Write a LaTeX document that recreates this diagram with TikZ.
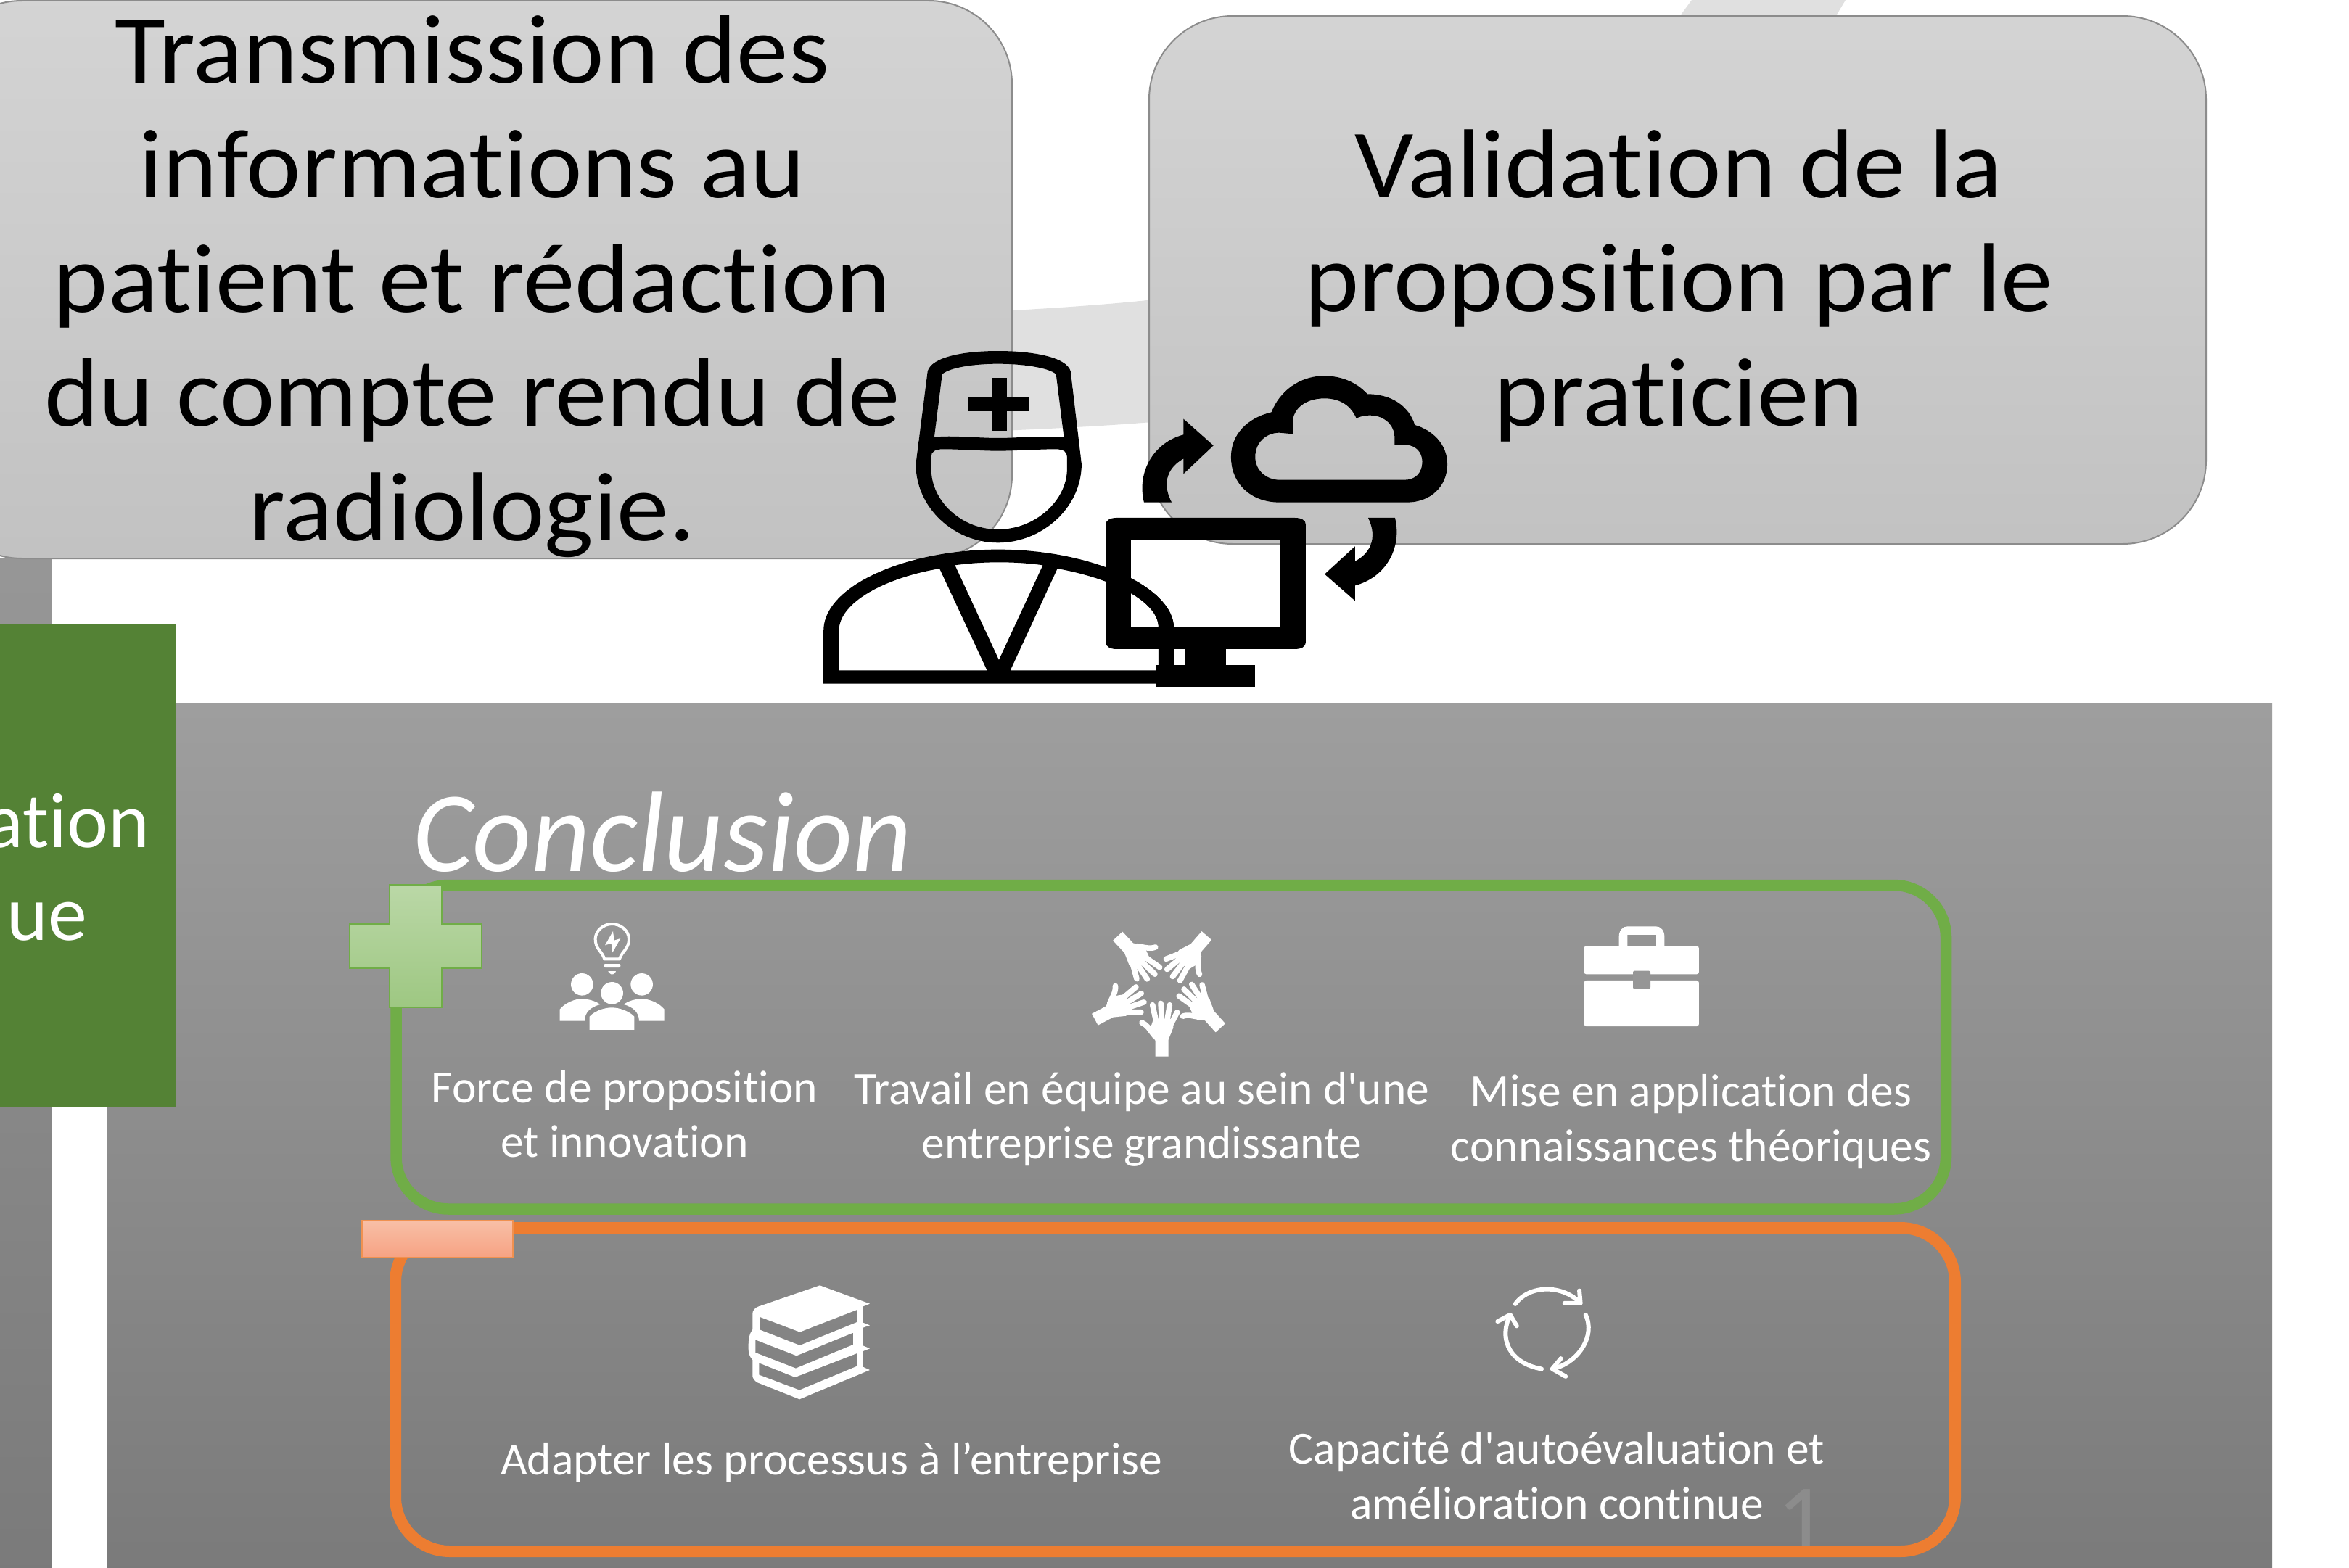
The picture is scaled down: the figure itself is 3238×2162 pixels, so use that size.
\documentclass[tikz,border=0pt]{standalone}
\usepackage{fontspec}
\newfontfamily\crl[Ligatures=CommonOff]{Carlito}
\newfontfamily\crlw[Ligatures=CommonOff,FakeStretch=1.06]{Carlito}
\definecolor{gr}{HTML}{70AD47}
\definecolor{og}{HTML}{ED7D31}
\definecolor{dg}{HTML}{548235}
\tikzset{
 big/.style={font=\crlw\fontsize{135}{150}\selectfont,text=black,anchor=base,inner sep=0},
 sm/.style={font=\crl\fontsize{63.5}{70}\selectfont,text=white,anchor=base,inner sep=0},
 box/.style={draw=black!45,line width=2pt,top color=black!17,bottom color=black!24,rounded corners=115pt},
 ic/.style={fill=black,even odd rule,draw=none},
 wi/.style={fill=white,even odd rule,draw=none},
 ws/.style={draw=white,fill=none,line cap=round,line join=round},
}
\begin{document}
\begin{tikzpicture}[x=1pt,y=-1pt]
\useasboundingbox (0,0) rectangle (3238,2162);
\clip (0,0) rectangle (3238,2162);
\fill[white] (0,0) rectangle (3238,2162);
% ring band behind the boxes
\fill[black!12] (1380,429) .. controls (1450,425) and (1530,420) .. (1600,412) -- (2310,30) -- (2332,0) -- (2544,0) -- (2520,40) -- (1600,581) .. controls (1530,587) and (1450,591) .. (1380,594) -- cycle;
% grey panels
\shade[top color=black!41,bottom color=black!52] (0,770) rectangle (71,2162);
\shade[top color=black!38,bottom color=black!52] (147,970) rectangle (3132,2162);
\fill[dg] (0,860) rectangle (243,1527);
\path[box] (-85,1) rectangle (1395,770);
\path[box] (1584,22) rectangle (3041,750);
% faint number
\node[sm,text=black!45,font=\crl\fontsize{135}{150}\selectfont] (num) at (2484,2140) {1};
% outlined groups
\draw[gr,line width=15.5pt,rounded corners=72pt] (546,1220.5) rectangle (2682.5,1667);
\draw[og,line width=16pt,rounded corners=75pt] (545,1693) rectangle (2695,2139);
% plus and minus
\draw[gr,line width=1.6pt,top color=gr!48!white,bottom color=gr!68!white]
 (537,1220) -- (609,1220) -- (609,1274) -- (664,1274) -- (664,1335) -- (609,1335) -- (609,1389) -- (537,1389) -- (537,1335) -- (482,1335) -- (482,1274) -- (537,1274) -- cycle;
\definecolor{mt}{HTML}{F8BFA6}\definecolor{mb}{HTML}{F6A283}
\draw[og!85!white,line width=1.6pt,top color=mt,bottom color=mb] (499,1683) rectangle (707,1734);
% top texts
\node[big] (l1) at (651,115) {Transmission des};
\node[big] (l2) at (651,272.5) {informations au};
\node[big] (l3) at (651,430) {patient et rédaction};
\node[big] (l4) at (651,587.5) {du compte rendu de};
\node[big] (l5) at (651,745) {radiologie.};
\node[big] (r1) at (2314,272) {Validation de la};
\node[big] (r2) at (2314,429) {proposition par le};
\node[big] (r3) at (2314,587) {praticien};
% green block text
\node[sm,font=\crl\fontsize{108}{120}\selectfont,anchor=base east] (g1) at (206,1168) {ation};
\node[sm,font=\crl\fontsize{108}{120}\selectfont,anchor=base east] (g2) at (120,1296) {ue};
% conclusion
\node[sm,font=\crl\itshape\fontsize{158}{170}\selectfont,anchor=base west] (concl) at (569,1201) {Conclusion};
% small labels
\node[sm] (a1) at (861,1520) {Force de proposition};
\node[sm] (a2) at (861,1595) {et innovation};
\node[sm] (b1) at (1574,1522) {Travail en équipe au sein d'une};
\node[sm] (b2) at (1574,1597) {entreprise grandissante};
\node[sm] (c1) at (2331,1525) {Mise en application des};
\node[sm] (c2) at (2331,1601) {connaissances théoriques};
\node[sm] (d1) at (1146,2033) {Adapter les processus à l’entreprise};
\node[sm] (e1) at (2146,2018) {Capacité d'autoévaluation et};
\node[sm] (e2) at (2146,2094) {amélioration continue};
% doctor + computer + cloud
\begin{scope}[xshift=1100pt,yshift=-460pt,x=0.606pt,y=-0.3333pt]
\path[ic] (295,155) .. controls (305,95) and (380,72) .. (455,72) .. controls (530,72) and (610,95) .. (620,155) -- (645,540) .. controls (645,720) and (555,865) .. (455,865) .. controls (355,865) and (268,720) .. (268,540) -- cycle
 (328,168) .. controls (345,140) and (400,125) .. (455,125) .. controls (510,125) and (570,140) .. (587,168) -- (605,430) .. controls (560,420) and (500,432) .. (455,432) .. controls (410,432) and (350,420) .. (310,428) -- cycle
 (303,510) .. controls (303,490) and (310,478) .. (330,478) .. controls (370,478) and (420,485) .. (455,485) .. controls (490,485) and (550,478) .. (585,478) .. controls (605,478) and (612,490) .. (612,510) -- (612,560) .. controls (612,690) and (540,810) .. (455,810) .. controls (370,810) and (303,690) .. (303,560) -- cycle;
\fill[black] (440,182) rectangle (475,403);
\fill[black] (388,265) rectangle (527,320);
\path[ic] (58,1448) -- (58,1230) .. controls (58,1040) and (250,893) .. (455,893) .. controls (670,893) and (855,1050) .. (855,1218) -- (855,1448) -- cycle
 (93,1393) -- (93,1230) .. controls (93,1110) and (200,1010) .. (322,972) -- (430,1393) -- cycle
 (357,958) .. controls (420,942) and (495,942) .. (557,958) -- (457,1350) -- cycle
 (590,972) .. controls (720,1015) and (820,1110) .. (820,1215) -- (820,1393) -- (483,1393) -- cycle;
\path[ic] (700,790) .. controls (700,772) and (710,762) .. (725,762) -- (1130,762) .. controls (1145,762) and (1155,772) .. (1155,790) -- (1155,1277) .. controls (1155,1295) and (1145,1305) .. (1130,1305) -- (725,1305) .. controls (710,1305) and (700,1295) .. (700,1277) -- cycle
 (757,855) rectangle (1097,1213);
\fill[black] (880,1305) rectangle (973,1370);
\fill[black] (815,1370) rectangle (1040,1462);
\begin{scope}
\clip (757,855) rectangle (1097,1213);
\path[ic] (455,893) .. controls (670,893) and (855,1050) .. (855,1218) -- (820,1215) .. controls (820,1110) and (720,1015) .. (590,972) -- cycle;
\end{scope}
\path[ic] (1095,698) -- (1385,698) .. controls (1440,698) and (1477,630) .. (1477,540) .. controls (1477,460) and (1445,400) .. (1403,378) .. controls (1390,300) and (1350,250) .. (1295,250) .. controls (1270,200) and (1235,175) .. (1197,175) .. controls (1140,175) and (1095,240) .. (1077,325) .. controls (1020,350) and (985,420) .. (985,510) .. controls (985,620) and (1030,698) .. (1095,698) -- cycle
 (1040,510) .. controls (1040,450) and (1065,410) .. (1095,410) -- (1125,415) -- (1125,370) .. controls (1125,310) and (1155,268) .. (1197,268) .. controls (1235,268) and (1258,300) .. (1270,350) .. controls (1280,342) and (1290,338) .. (1300,338) .. controls (1335,338) and (1357,380) .. (1357,430) -- (1357,460) -- (1380,460) .. controls (1405,460) and (1420,490) .. (1420,530) .. controls (1420,575) and (1405,605) .. (1380,605) -- (1095,605) .. controls (1065,605) and (1040,565) .. (1040,510) -- cycle;
\path[ic] (787,698) .. controls (770,570) and (810,450) .. (877,418) -- (877,353) -- (945,463) -- (877,580) -- (877,517) .. controls (835,560) and (830,630) .. (850,698) -- cycle;
\path[ic] (1358,762) .. controls (1375,890) and (1335,1010) .. (1267,1042) -- (1267,1105) -- (1198,995) -- (1267,880) -- (1267,942) .. controls (1310,900) and (1315,830) .. (1297,762) -- cycle;
\end{scope}
% bulb and people
\begin{scope}[xshift=750pt,yshift=-1260pt,x=.3333pt,y=-.3333pt]
\draw[ws,line width=4pt] (250,187) .. controls (240,155) and (212,145) .. (212,105) .. controls (212,70) and (245,42) .. (281,42) .. controls (317,42) and (351,70) .. (351,105) .. controls (351,145) and (322,155) .. (312,187) -- cycle;
\fill[white] (285,72) -- (252,130) -- (278,122) -- (283,160) -- (316,102) -- (290,110) -- cycle;
\fill[white,rounded corners=2pt] (247,207) rectangle (316,222);
\fill[white,rounded corners=2pt] (262,237) -- (300,237) -- (281,254) -- cycle;
\fill[white] (157,292) circle[radius=15.3pt];
\fill[white] (404,292) circle[radius=15.3pt];
\fill[white] (281,328) circle[radius=15.3pt];
\fill[white] (65,443) -- (65,395) .. controls (85,370) and (125,352) .. (155,352) .. controls (185,352) and (215,362) .. (232,375) .. controls (195,385) and (168,405) .. (168,443) -- cycle;
\fill[white] (497,443) -- (497,395) .. controls (477,370) and (437,352) .. (405,352) .. controls (375,352) and (345,362) .. (330,375) .. controls (365,385) and (393,405) .. (393,443) -- cycle;
\fill[white] (188,480) -- (188,425) .. controls (205,405) and (245,388) .. (280,388) .. controls (315,388) and (355,405) .. (373,425) -- (373,480) -- cycle;
\end{scope}
% hands
\foreach \wx/\wy/\wr in {1601.7/1456.7/0,1509.3/1405.7/-62,1540.7/1290.7/-137,1663.3/1290/139,1682.3/1417.3/42}{
\begin{scope}[xshift=\wx pt,yshift=-\wy pt,rotate=\wr,x=.3333pt,y=-.3333pt,shift={(-365,-560)}]
\fill[white] (330,405) -- (408,405) -- (412,440) -- (392,490) -- (392,560) -- (338,560) -- (338,495) -- (322,470) -- (318,440) -- cycle;
\draw[ws,line width=7.6pt] (326,347) -- (342,420);
\draw[ws,line width=7.6pt] (360,340) -- (365,420);
\draw[ws,line width=7.6pt] (397,347) -- (385,420);
\draw[ws,line width=7.6pt] (428,377) -- (400,430);
\draw[ws,line width=7.6pt] (282,420) .. controls (305,430) and (315,450) .. (335,475);
\end{scope}}
% books
\begin{scope}[xshift=1000pt,yshift=-1700pt,x=.5102pt,y=-.3333pt]
\path[wi] (255,217) -- (390,293) -- (370,305) -- (370,370) -- (390,382) -- (370,393) -- (370,465) -- (390,478) -- (370,490) -- (370,553) -- (390,567) -- (200,688) -- (85,618) .. controls (78,610) and (73,600) .. (73,590) -- (73,525) .. controls (65,510) and (62,500) .. (62,470) .. controls (62,440) and (65,415) .. (73,400) -- (73,335) .. controls (73,320) and (80,310) .. (88,305) -- cycle
 (92,347) -- (201,410) -- (357,317) -- (357,368) -- (201,465) -- (92,400) -- cycle
 (81,442) -- (192,508) -- (345,413) -- (345,462) -- (190,560) -- (81,495) -- cycle
 (91,538) -- (188,597) -- (357,497) -- (357,550) -- (200,650) -- (91,587) -- cycle;
\end{scope}
% briefcase and refresh
\begin{scope}[xshift=1950pt,yshift=-1240pt,x=.5102pt,y=-.574pt]
\path[wi] (552,112) -- (552,90) .. controls (552,75) and (562,65) .. (575,65) -- (652,65) .. controls (665,65) and (675,75) .. (675,90) -- (675,112) -- cycle
 (575,112) -- (575,85) -- (653,85) -- (653,112) -- cycle;
\fill[white,rounded corners=3pt] (458,180) -- (458,112) -- (768,112) -- (768,180) -- cycle;
\fill[white,rounded corners=3pt] (458,195) -- (458,305) -- (768,305) -- (768,195) -- cycle;
\fill[black!41,rounded corners=2pt] (590,172) -- (637,172) -- (637,215) -- (590,215) -- cycle;
\draw[ws,line width=6pt] (272,972) .. controls (310,925) and (400,925) .. (448,970);
\draw[ws,line width=6pt] (405,970) -- (448,970) -- (445,940);
\draw[ws,line width=6pt] (462,998) .. controls (490,1050) and (440,1115) .. (372,1128);
\draw[ws,line width=6pt] (395,1103) -- (372,1128) -- (408,1146);
\draw[ws,line width=6pt] (343,1128) .. controls (260,1115) and (225,1060) .. (258,998);
\draw[ws,line width=6pt] (224,1014) -- (258,998) -- (276,1025);
\end{scope}
\end{tikzpicture}
\end{document}
